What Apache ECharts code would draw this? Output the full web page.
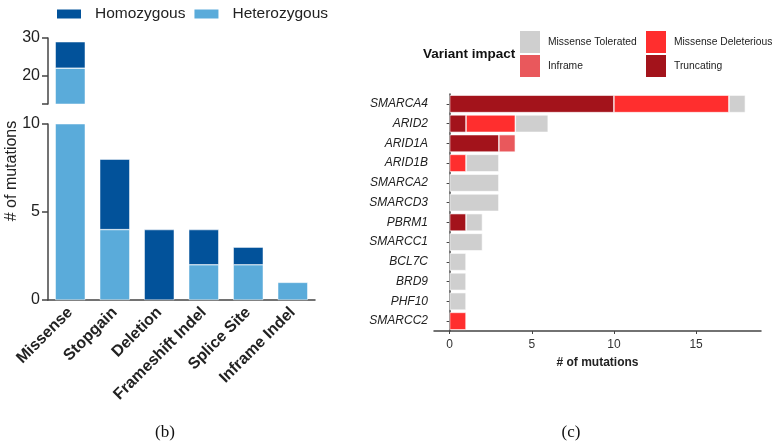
<!DOCTYPE html>
<html>
<head>
<meta charset="utf-8">
<script src="https://cdn.jsdelivr.net/npm/echarts@6/dist/echarts.min.js"></script>
<style>
  html, body { margin: 0; padding: 0; background: #fff; }
  #chart { width: 780px; height: 447px; }
</style>
</head>
<body>
<div id="chart"></div>
<script>
// panel (b) - mutation types
const typeCats = ["Missense", "Stopgain", "Deletion", "Frameshift Indel", "Splice Site", "Inframe Indel"];
const heterozygous = [22, 4, 0, 2, 2, 1];
const homozygous = [7, 4, 4, 2, 1, 0];

// panel (c) - genes by variant impact
const genes = ["SMARCA4", "ARID2", "ARID1A", "ARID1B", "SMARCA2", "SMARCD3", "PBRM1", "SMARCC1", "BCL7C", "BRD9", "PHF10", "SMARCC2"];
const truncating = [10, 1, 3, 0, 0, 0, 1, 0, 0, 0, 0, 0];
const missenseDeleterious = [7, 3, 0, 1, 0, 0, 0, 0, 0, 0, 0, 1];
const inframe = [0, 0, 1, 0, 0, 0, 0, 0, 0, 0, 0, 0];
const missenseTolerated = [1, 2, 0, 2, 3, 3, 1, 2, 1, 1, 1, 0];

const upperTicks = [12.5, 20, 30];
const upperLabels = [20, 30];
const cTicks = [0, 5, 10, 15];

const FONT = "'Liberation Sans', Arial, sans-serif";
const axisCol = "#444";
const blank = (arr) => arr.map((v) => (v === 0 ? null : v));

const chart = echarts.init(document.getElementById("chart"));

const bSeries = [];
[0, 1].forEach((g) => {
  bSeries.push({
    name: "Heterozygous",
    type: "bar",
    xAxisIndex: g,
    yAxisIndex: g,
    stack: "b" + g,
    barWidth: 30,
    data: blank(heterozygous),
    itemStyle: { color: "#5aabda", borderColor: "#fff", borderWidth: 0.5 },
  });
  bSeries.push({
    name: "Homozygous",
    type: "bar",
    xAxisIndex: g,
    yAxisIndex: g,
    stack: "b" + g,
    barWidth: 30,
    data: blank(homozygous),
    itemStyle: { color: "#02529a", borderColor: "#fff", borderWidth: 0.5 },
  });
});

const cDefs = [
  { name: "Truncating", data: truncating, color: "#a3131b" },
  { name: "Missense Deleterious", data: missenseDeleterious, color: "#ff2e2e" },
  { name: "Inframe", data: inframe, color: "#e9585c" },
  { name: "Missense Tolerated", data: missenseTolerated, color: "#cfcfcf" },
];
const cSeries = cDefs.map((d) => ({
  name: d.name,
  type: "bar",
  xAxisIndex: 2,
  yAxisIndex: 2,
  stack: "c",
  barWidth: 17.5,
  data: blank(d.data),
  itemStyle: { color: d.color, borderColor: "#fff", borderWidth: 0.6 },
}));

const cLegend = (items, left) => ({
  data: items,
  orient: "vertical",
  left: left,
  top: 31,
  padding: 0,
  icon: "rect",
  itemWidth: 20,
  itemHeight: 22,
  itemGap: 2,
  itemStyle: { borderWidth: 0 },
  textStyle: { fontSize: 10.3, color: "#222", padding: [0, 0, 0, 3] },
});

chart.setOption({
  animation: false,
  backgroundColor: "#fff",
  textStyle: { fontFamily: FONT },
  legend: [
    {
      data: ["Homozygous", "Heterozygous"],
      left: 57,
      top: 6,
      padding: 0,
      icon: "rect",
      itemWidth: 24,
      itemHeight: 9,
      itemGap: 9,
      itemStyle: { borderWidth: 0 },
      textStyle: { fontSize: 15.5, color: "#222", padding: [0, 0, 0, 9] },
    },
    cLegend(["Missense Tolerated", "Inframe"], 520),
    cLegend(["Missense Deleterious", "Truncating"], 646),
  ],
  grid: [
    { left: 48, width: 267, top: 38, height: 66 },
    { left: 48, width: 267, top: 124, height: 176 },
    { left: 434, width: 327, top: 94, height: 237 },
  ],
  xAxis: [
    { gridIndex: 0, type: "category", data: typeCats, show: false },
    {
      gridIndex: 1,
      type: "category",
      data: typeCats,
      axisLine: { lineStyle: { color: axisCol, width: 1.5 } },
      axisTick: { alignWithLabel: true, length: 6, lineStyle: { color: axisCol, width: 1.5 } },
      axisLabel: { rotate: 45, interval: 0, fontSize: 16, fontWeight: "bold", color: "#222", margin: 10 },
    },
    {
      gridIndex: 2,
      type: "value",
      min: -0.95,
      max: 18.95,
      splitLine: { show: false },
      axisLine: { show: true, lineStyle: { color: axisCol, width: 1.5 } },
      axisTick: { show: true, length: 3, customValues: cTicks, lineStyle: { color: axisCol } },
      axisLabel: { customValues: cTicks, fontSize: 12, color: "#333", margin: 8 },
      name: "# of mutations",
      nameLocation: "middle",
      nameGap: 26,
      nameTextStyle: { fontWeight: "bold", fontSize: 12, color: "#222" },
    },
  ],
  yAxis: [
    {
      gridIndex: 0,
      type: "value",
      min: 12.5,
      max: 30,
      splitLine: { show: false },
      axisLine: { show: true, lineStyle: { color: axisCol, width: 1.5 } },
      axisTick: { show: true, length: 6, customValues: upperTicks, lineStyle: { color: axisCol, width: 1.5 } },
      axisLabel: { customValues: upperLabels, fontSize: 16, color: "#222", margin: 8 },
    },
    {
      gridIndex: 1,
      type: "value",
      min: 0,
      max: 10,
      interval: 5,
      splitLine: { show: false },
      axisLine: { show: true, lineStyle: { color: axisCol, width: 1.5 } },
      axisTick: { show: true, length: 6, lineStyle: { color: axisCol, width: 1.5 } },
      axisLabel: { fontSize: 16, color: "#222", margin: 8 },
    },
    {
      gridIndex: 2,
      type: "category",
      data: genes,
      inverse: true,
      axisLine: { show: true, lineStyle: { color: axisCol, width: 1.5 } },
      axisTick: { show: true, alignWithLabel: true, length: 3, lineStyle: { color: axisCol } },
      axisLabel: { fontStyle: "italic", fontSize: 12, color: "#222", margin: 6 },
    },
  ],
  graphic: [
    {
      type: "text",
      x: 12,
      y: 171,
      rotation: Math.PI / 2,
      style: { text: "# of mutations", font: "16px " + FONT, fill: "#222", align: "center", verticalAlign: "middle" },
    },
    {
      type: "text",
      x: 423,
      y: 54,
      style: { text: "Variant impact", font: "bold 13.5px " + FONT, fill: "#111", align: "left", verticalAlign: "middle" },
    },
    {
      type: "text",
      x: 165,
      y: 433,
      style: { text: "(b)", font: "17px 'Liberation Serif', serif", fill: "#111", align: "center", verticalAlign: "middle" },
    },
    {
      type: "text",
      x: 571,
      y: 433,
      style: { text: "(c)", font: "17px 'Liberation Serif', serif", fill: "#111", align: "center", verticalAlign: "middle" },
    },
  ],
  series: bSeries.concat(cSeries),
});
</script>
</body>
</html>
